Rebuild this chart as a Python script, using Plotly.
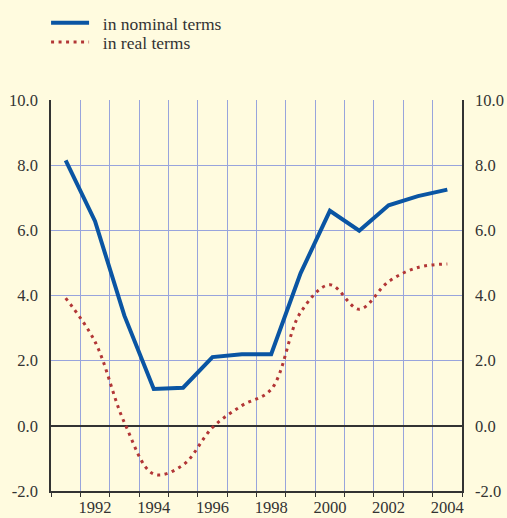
import plotly.graph_objects as go

years = [1991, 1992, 1993, 1994, 1995, 1996, 1997, 1998, 1999, 2000, 2001, 2002, 2003, 2004]
nominal = [8.15, 6.28, 3.38, 1.13, 1.17, 2.11, 2.2, 2.2, 4.68, 6.6, 5.99, 6.77, 7.05, 7.25]
real = [3.92, 2.58, 0.1, -1.48, -1.2, -0.05, 0.62, 1.12, 3.48, 4.33, 3.58, 4.43, 4.86, 4.97]
year_labels = [1992, 1994, 1996, 1998, 2000, 2002, 2004]
y_ticks = [-2, 0, 2, 4, 6, 8, 10]
y_ticktext = ["-2.0", "0.0", "2.0", "4.0", "6.0", "8.0", "10.0"]
series_names = ["in nominal terms", "in real terms"]

BG = "#fffbdf"
FONT = dict(family="Liberation Serif", size=16.5, color="#333333")
LFONT = dict(family="Liberation Serif", size=17.5, color="#333333")
GRID = "#98a4dc"
PAD = "\u00a0\u00a0"

fig = go.Figure()
fig.add_trace(go.Scatter(
    x=years, y=nominal, name=PAD + series_names[0], mode="lines", legend="legend",
    line=dict(color="#0a55a3", width=4),
))
fig.add_trace(go.Scatter(
    x=years, y=real, name=PAD + series_names[1], mode="lines", yaxis="y2", legend="legend2",
    line=dict(color="#b23636", width=3, dash="3px,4.5px", shape="spline", smoothing=1.0),
))

fig.update_layout(
    width=507, height=518,
    margin=dict(l=51, r=45, t=100, b=27, autoexpand=False),
    paper_bgcolor=BG, plot_bgcolor=BG,
    font=FONT,
    showlegend=True,
    legend=dict(x=-0.012, y=1.243, xanchor="left", yanchor="top", itemwidth=38,
                bgcolor="rgba(0,0,0,0)", font=LFONT),
    legend2=dict(x=-0.012, y=1.194, xanchor="left", yanchor="top", itemwidth=38,
                 bgcolor="rgba(0,0,0,0)", font=LFONT),
    xaxis=dict(
        range=[1990.5, 2004.5], tickmode="array", tickvals=year_labels,
        ticktext=[str(v) for v in year_labels], showgrid=False, ticks="",
        showline=True, linecolor="#333333", linewidth=1.5, zeroline=False,
        minor=dict(tick0=1990.5, dtick=1, showgrid=True, gridcolor=GRID, gridwidth=1,
                   ticks="outside", ticklen=4, tickcolor="#333333", tickwidth=1),
        tickfont=FONT, ticklabelstandoff=0,
    ),
    yaxis=dict(
        range=[-2, 10], tickmode="array", tickvals=y_ticks, ticktext=y_ticktext,
        showgrid=True, gridcolor=GRID, gridwidth=1, ticks="",
        showline=True, linecolor="#333333", linewidth=1.5,
        zeroline=True, zerolinecolor="#333333", zerolinewidth=1.5,
        ticklabelstandoff=8, tickfont=FONT,
    ),
    yaxis2=dict(
        range=[-2, 10], overlaying="y", side="right", matches="y",
        tickmode="array", tickvals=y_ticks, ticktext=y_ticktext,
        showgrid=False, ticks="", showline=True, linecolor="#333333", linewidth=1.5,
        zeroline=False, ticklabelstandoff=8, tickfont=FONT,
    ),
)

fig.write_html(
    "out.html",
    config={"displayModeBar": False},
    post_script="document.body.style.margin='0';document.body.style.background='%s';" % BG,
)
